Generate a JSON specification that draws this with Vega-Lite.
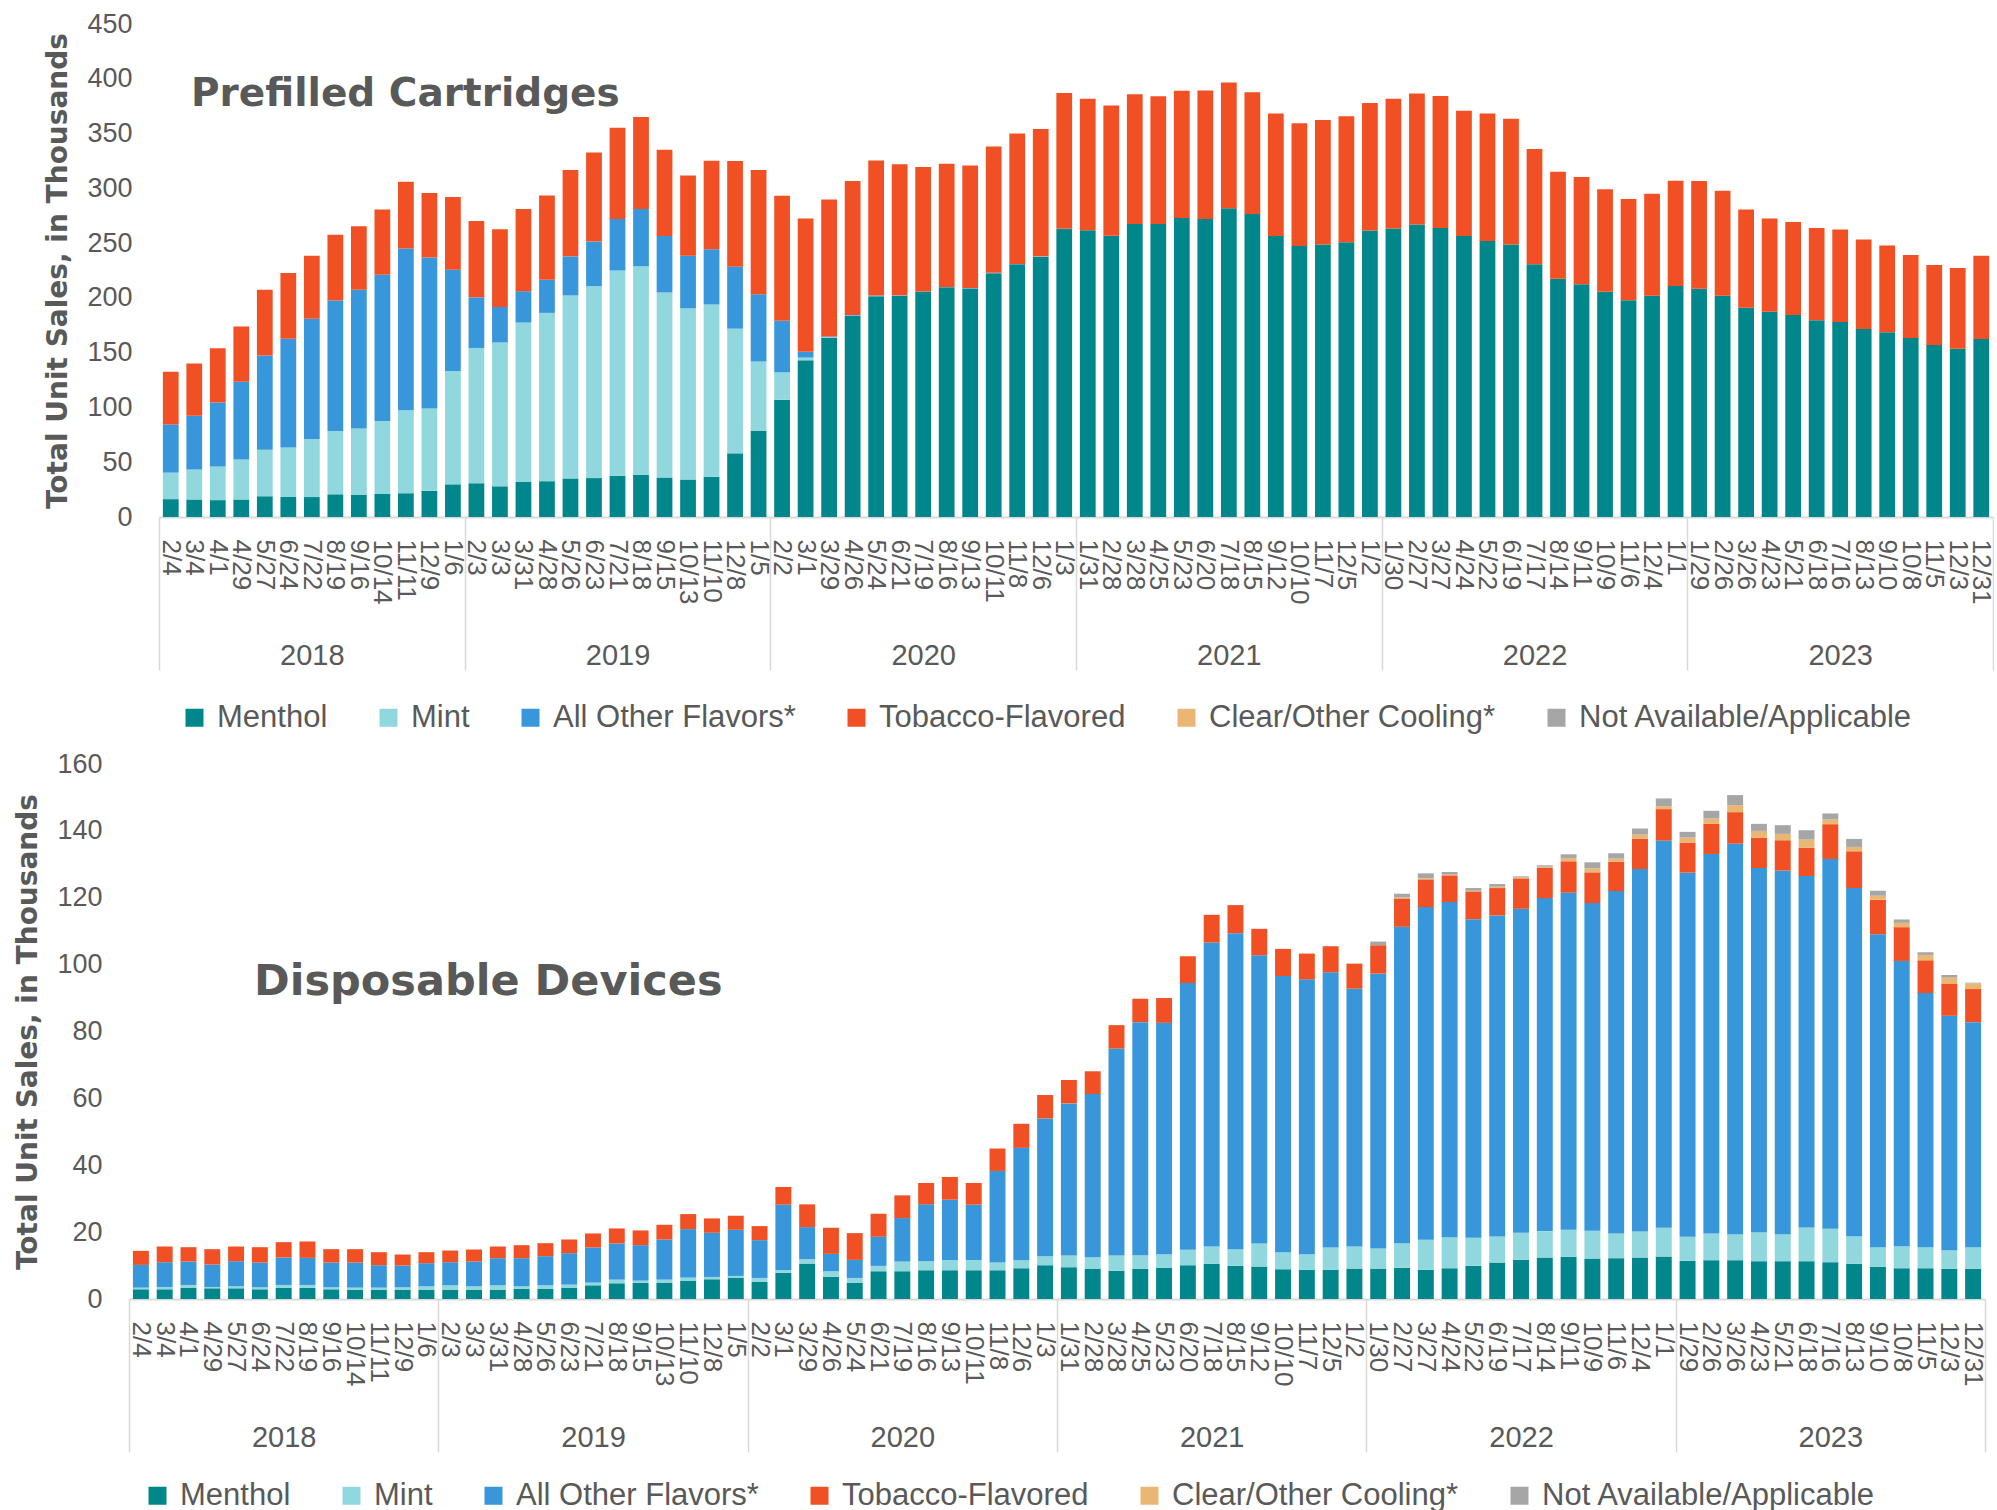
{
  "$schema": "https://vega.github.io/schema/vega-lite/v6.json",
  "padding": {"left": 14, "top": 10, "right": 0, "bottom": 0},
  "background": "white",
  "config": {
    "view": {"stroke": null},
    "font": "Liberation Sans, Arial, sans-serif",
    "axis": {"labelColor": "#595959", "titleColor": "#595959", "labelFont": "Liberation Sans, Arial, sans-serif"},
    "legend": {"labelColor": "#595959", "labelFont": "Liberation Sans, Arial, sans-serif"}
  },
  "datasets": {
    "cats": [
      {"k": "M", "cat": "Menthol", "o": 1},
      {"k": "Mi", "cat": "Mint", "o": 2},
      {"k": "O", "cat": "All Other Flavors*", "o": 3},
      {"k": "T", "cat": "Tobacco-Flavored", "o": 4},
      {"k": "C", "cat": "Clear/Other Cooling*", "o": 5},
      {"k": "N", "cat": "Not Available/Applicable", "o": 6}
    ],
    "years": [{"yr": "2018"}, {"yr": "2019"}, {"yr": "2020"}, {"yr": "2021"}, {"yr": "2022"}, {"yr": "2023"}],
    "pc": [
      {"p": "2/4", "M": 16.3, "Mi": 24.2, "O": 44, "T": 48.1},
      {"p": "3/4", "M": 16, "Mi": 27.4, "O": 49, "T": 47.7},
      {"p": "4/1", "M": 15.4, "Mi": 30.8, "O": 58.4, "T": 49.4},
      {"p": "4/29", "M": 16, "Mi": 36.5, "O": 71, "T": 50.3},
      {"p": "5/27", "M": 18.9, "Mi": 42.4, "O": 86.1, "T": 60},
      {"p": "6/24", "M": 18.2, "Mi": 45.3, "O": 99.3, "T": 60},
      {"p": "7/22", "M": 18.2, "Mi": 53.1, "O": 109.7, "T": 57.5},
      {"p": "8/19", "M": 20.7, "Mi": 57.9, "O": 119, "T": 60},
      {"p": "9/16", "M": 20.4, "Mi": 60.3, "O": 126.7, "T": 58.1},
      {"p": "10/14", "M": 21, "Mi": 66.7, "O": 133.5, "T": 59.4},
      {"p": "11/11", "M": 21.7, "Mi": 75.7, "O": 147.7, "T": 60.9},
      {"p": "12/9", "M": 23.9, "Mi": 75.1, "O": 137.9, "T": 58.8},
      {"p": "1/6", "M": 29.8, "Mi": 103.4, "O": 92.4, "T": 66.6},
      {"p": "2/3", "M": 30.8, "Mi": 123.5, "O": 46.2, "T": 69.7},
      {"p": "3/3", "M": 28, "Mi": 131.3, "O": 32.4, "T": 71},
      {"p": "3/31", "M": 32, "Mi": 145.5, "O": 28.6, "T": 75.1},
      {"p": "4/28", "M": 32.7, "Mi": 153.6, "O": 30.2, "T": 77},
      {"p": "5/26", "M": 35.2, "Mi": 167.1, "O": 35.6, "T": 78.8},
      {"p": "6/23", "M": 35.5, "Mi": 175.3, "O": 40.6, "T": 81.3},
      {"p": "7/21", "M": 37.7, "Mi": 187.3, "O": 47.1, "T": 83.3},
      {"p": "8/18", "M": 38.6, "Mi": 190.4, "O": 52.2, "T": 83.9},
      {"p": "9/15", "M": 36.1, "Mi": 168.8, "O": 51.5, "T": 78.9},
      {"p": "10/13", "M": 34.2, "Mi": 156.2, "O": 48.1, "T": 73.2},
      {"p": "11/10", "M": 36.8, "Mi": 157.1, "O": 50.5, "T": 80.8},
      {"p": "12/8", "M": 58.1, "Mi": 113.8, "O": 56.5, "T": 96.5},
      {"p": "1/5", "M": 78.6, "Mi": 63.4, "O": 61.3, "T": 113.4},
      {"p": "2/2", "M": 107.1, "Mi": 24.9, "O": 47.1, "T": 114.1},
      {"p": "3/1", "M": 143, "Mi": 2.5, "O": 5.3, "T": 121.6},
      {"p": "3/29", "M": 163.5, "Mi": 0.5, "O": 0.8, "T": 124.9},
      {"p": "4/26", "M": 183.5, "Mi": 0.2, "O": 0.6, "T": 122.4},
      {"p": "5/24", "M": 201.6, "Mi": 0.1, "O": 0.4, "T": 123.4},
      {"p": "6/21", "M": 202, "Mi": 0.1, "O": 0.3, "T": 119.6},
      {"p": "7/19", "M": 205.5, "Mi": 0.1, "O": 0.3, "T": 113.6},
      {"p": "8/16", "M": 209.6, "Mi": 0.1, "O": 0.3, "T": 112.4},
      {"p": "9/13", "M": 208.6, "Mi": 0.1, "O": 0.3, "T": 111.8},
      {"p": "10/11", "M": 222.5, "Mi": 0.1, "O": 0.3, "T": 115.2},
      {"p": "11/8", "M": 230.6, "Mi": 0.1, "O": 0.3, "T": 119},
      {"p": "12/6", "M": 237.6, "Mi": 0.1, "O": 0.2, "T": 116.2},
      {"p": "1/3", "M": 262.8, "Mi": 0.1, "O": 0.2, "T": 124},
      {"p": "1/31", "M": 261.7, "Mi": 0, "O": 0, "T": 120.1},
      {"p": "2/28", "M": 256.7, "Mi": 0, "O": 0, "T": 118.8},
      {"p": "3/28", "M": 267.4, "Mi": 0, "O": 0, "T": 118.5},
      {"p": "4/25", "M": 267.4, "Mi": 0, "O": 0, "T": 116.6},
      {"p": "5/23", "M": 273, "Mi": 0, "O": 0, "T": 116},
      {"p": "6/20", "M": 272.1, "Mi": 0, "O": 0, "T": 117.2},
      {"p": "7/18", "M": 281.8, "Mi": 0, "O": 0, "T": 114.7},
      {"p": "8/15", "M": 276.5, "Mi": 0, "O": 0, "T": 111.2},
      {"p": "9/12", "M": 256.4, "Mi": 0, "O": 0, "T": 111.8},
      {"p": "10/10", "M": 247.3, "Mi": 0, "O": 0, "T": 112.1},
      {"p": "11/7", "M": 248.8, "Mi": 0, "O": 0, "T": 113.5},
      {"p": "12/5", "M": 250.7, "Mi": 0, "O": 0, "T": 115},
      {"p": "1/2", "M": 261.4, "Mi": 0, "O": 0, "T": 116.6},
      {"p": "1/30", "M": 263.3, "Mi": 0, "O": 0, "T": 118.5},
      {"p": "2/27", "M": 267.1, "Mi": 0, "O": 0, "T": 119.4},
      {"p": "3/27", "M": 263.9, "Mi": 0, "O": 0, "T": 120.4},
      {"p": "4/24", "M": 256.4, "Mi": 0, "O": 0, "T": 114.4},
      {"p": "5/22", "M": 252, "Mi": 0, "O": 0, "T": 116.2},
      {"p": "6/19", "M": 248.8, "Mi": 0, "O": 0, "T": 114.7},
      {"p": "7/17", "M": 230.6, "Mi": 0, "O": 0, "T": 105.3},
      {"p": "8/14", "M": 217.4, "Mi": 0, "O": 0, "T": 97.7},
      {"p": "9/11", "M": 212.4, "Mi": 0, "O": 0, "T": 98},
      {"p": "10/9", "M": 205.5, "Mi": 0, "O": 0, "T": 93.6},
      {"p": "11/6", "M": 197.9, "Mi": 0, "O": 0, "T": 92.4},
      {"p": "12/4", "M": 202, "Mi": 0, "O": 0, "T": 93},
      {"p": "1/1", "M": 210.8, "Mi": 0, "O": 0, "T": 96.2},
      {"p": "1/29", "M": 208.3, "Mi": 0, "O": 0, "T": 98.4},
      {"p": "2/26", "M": 202, "Mi": 0, "O": 0, "T": 95.9},
      {"p": "3/26", "M": 191, "Mi": 0, "O": 0, "T": 89.6},
      {"p": "4/23", "M": 187.3, "Mi": 0, "O": 0, "T": 85.1},
      {"p": "5/21", "M": 184.4, "Mi": 0, "O": 0, "T": 84.9},
      {"p": "6/18", "M": 179.7, "Mi": 0, "O": 0, "T": 84.2},
      {"p": "7/16", "M": 178, "Mi": 0, "O": 0, "T": 84.4},
      {"p": "8/13", "M": 171.6, "Mi": 0, "O": 0, "T": 81.6},
      {"p": "9/10", "M": 168.7, "Mi": 0, "O": 0, "T": 79.2},
      {"p": "10/8", "M": 163.4, "Mi": 0, "O": 0, "T": 75.7},
      {"p": "11/5", "M": 157.1, "Mi": 0, "O": 0, "T": 72.9},
      {"p": "12/3", "M": 153.6, "Mi": 0, "O": 0, "T": 73.6},
      {"p": "12/31", "M": 162.4, "Mi": 0, "O": 0, "T": 76.1}
    ],
    "dd": [
      {"p": "2/4", "M": 2.9, "Mi": 0.5, "O": 6.8, "T": 4.2, "C": 0, "N": 0},
      {"p": "3/4", "M": 2.9, "Mi": 0.7, "O": 7.4, "T": 4.7, "C": 0, "N": 0},
      {"p": "4/1", "M": 3.4, "Mi": 0.8, "O": 7.0, "T": 4.3, "C": 0, "N": 0},
      {"p": "4/29", "M": 3.2, "Mi": 0.4, "O": 6.7, "T": 4.6, "C": 0, "N": 0},
      {"p": "5/27", "M": 3.2, "Mi": 0.6, "O": 7.5, "T": 4.4, "C": 0, "N": 0},
      {"p": "6/24", "M": 2.9, "Mi": 0.6, "O": 7.4, "T": 4.6, "C": 0, "N": 0},
      {"p": "7/22", "M": 3.3, "Mi": 0.9, "O": 8.2, "T": 4.6, "C": 0, "N": 0},
      {"p": "8/19", "M": 3.3, "Mi": 0.9, "O": 8.1, "T": 4.9, "C": 0, "N": 0},
      {"p": "9/16", "M": 2.9, "Mi": 0.6, "O": 7.4, "T": 4.0, "C": 0, "N": 0},
      {"p": "10/14", "M": 2.8, "Mi": 0.6, "O": 7.5, "T": 4.0, "C": 0, "N": 0},
      {"p": "11/11", "M": 2.8, "Mi": 0.6, "O": 6.7, "T": 3.9, "C": 0, "N": 0},
      {"p": "12/9", "M": 2.8, "Mi": 0.7, "O": 6.5, "T": 3.3, "C": 0, "N": 0},
      {"p": "1/6", "M": 2.8, "Mi": 1.0, "O": 6.9, "T": 3.3, "C": 0, "N": 0},
      {"p": "2/3", "M": 2.8, "Mi": 1.3, "O": 6.9, "T": 3.5, "C": 0, "N": 0},
      {"p": "3/3", "M": 2.8, "Mi": 1.0, "O": 7.4, "T": 3.6, "C": 0, "N": 0},
      {"p": "3/31", "M": 2.8, "Mi": 1.3, "O": 8.1, "T": 3.5, "C": 0, "N": 0},
      {"p": "4/28", "M": 3.1, "Mi": 0.7, "O": 8.4, "T": 3.9, "C": 0, "N": 0},
      {"p": "5/26", "M": 3.1, "Mi": 1.0, "O": 8.7, "T": 3.9, "C": 0, "N": 0},
      {"p": "6/23", "M": 3.4, "Mi": 0.9, "O": 9.4, "T": 4.1, "C": 0, "N": 0},
      {"p": "7/21", "M": 4.1, "Mi": 0.8, "O": 10.5, "T": 4.2, "C": 0, "N": 0},
      {"p": "8/18", "M": 4.7, "Mi": 1.1, "O": 10.8, "T": 4.5, "C": 0, "N": 0},
      {"p": "9/15", "M": 4.8, "Mi": 0.7, "O": 10.6, "T": 4.4, "C": 0, "N": 0},
      {"p": "10/13", "M": 4.9, "Mi": 0.9, "O": 12.0, "T": 4.4, "C": 0, "N": 0},
      {"p": "11/10", "M": 5.5, "Mi": 0.9, "O": 14.5, "T": 4.5, "C": 0, "N": 0},
      {"p": "12/8", "M": 5.9, "Mi": 0.7, "O": 13.2, "T": 4.3, "C": 0, "N": 0},
      {"p": "1/5", "M": 6.4, "Mi": 0.5, "O": 13.8, "T": 4.2, "C": 0, "N": 0},
      {"p": "2/2", "M": 5.1, "Mi": 1.2, "O": 11.3, "T": 4.2, "C": 0, "N": 0},
      {"p": "3/1", "M": 7.8, "Mi": 0.9, "O": 19.5, "T": 5.3, "C": 0, "N": 0},
      {"p": "3/29", "M": 10.6, "Mi": 1.3, "O": 9.6, "T": 6.8, "C": 0, "N": 0},
      {"p": "4/26", "M": 6.6, "Mi": 1.7, "O": 5.2, "T": 7.8, "C": 0, "N": 0},
      {"p": "5/24", "M": 4.8, "Mi": 1.5, "O": 5.4, "T": 8.0, "C": 0, "N": 0},
      {"p": "6/21", "M": 8.3, "Mi": 1.6, "O": 8.7, "T": 6.9, "C": 0, "N": 0},
      {"p": "7/19", "M": 8.3, "Mi": 2.9, "O": 13.0, "T": 6.8, "C": 0, "N": 0},
      {"p": "8/16", "M": 8.6, "Mi": 2.7, "O": 17.0, "T": 6.4, "C": 0, "N": 0},
      {"p": "9/13", "M": 8.6, "Mi": 3.1, "O": 18.0, "T": 6.8, "C": 0, "N": 0},
      {"p": "10/11", "M": 8.6, "Mi": 3.1, "O": 16.5, "T": 6.5, "C": 0, "N": 0},
      {"p": "11/8", "M": 8.6, "Mi": 2.3, "O": 27.4, "T": 6.7, "C": 0, "N": 0},
      {"p": "12/6", "M": 9.2, "Mi": 2.4, "O": 33.6, "T": 7.2, "C": 0, "N": 0},
      {"p": "1/3", "M": 10.1, "Mi": 2.7, "O": 41.2, "T": 7.0, "C": 0, "N": 0},
      {"p": "1/31", "M": 9.5, "Mi": 3.5, "O": 45.5, "T": 7.0, "C": 0, "N": 0},
      {"p": "2/28", "M": 9.1, "Mi": 3.4, "O": 48.8, "T": 6.8, "C": 0, "N": 0},
      {"p": "3/28", "M": 8.4, "Mi": 4.6, "O": 61.9, "T": 7.0, "C": 0, "N": 0},
      {"p": "4/25", "M": 9.0, "Mi": 4.1, "O": 69.7, "T": 7.0, "C": 0, "N": 0},
      {"p": "5/23", "M": 9.3, "Mi": 4.1, "O": 69.2, "T": 7.4, "C": 0, "N": 0},
      {"p": "6/20", "M": 10.1, "Mi": 4.6, "O": 79.8, "T": 8.0, "C": 0, "N": 0},
      {"p": "7/18", "M": 10.5, "Mi": 5.2, "O": 90.9, "T": 8.3, "C": 0, "N": 0},
      {"p": "8/15", "M": 9.9, "Mi": 5.0, "O": 94.5, "T": 8.4, "C": 0, "N": 0},
      {"p": "9/12", "M": 9.7, "Mi": 6.9, "O": 86.2, "T": 7.9, "C": 0, "N": 0},
      {"p": "10/10", "M": 8.9, "Mi": 5.1, "O": 82.6, "T": 8.1, "C": 0, "N": 0},
      {"p": "11/7", "M": 8.7, "Mi": 4.7, "O": 82.2, "T": 7.7, "C": 0, "N": 0},
      {"p": "12/5", "M": 8.7, "Mi": 6.7, "O": 82.3, "T": 7.8, "C": 0, "N": 0},
      {"p": "1/2", "M": 9.1, "Mi": 6.6, "O": 77.1, "T": 7.5, "C": 0, "N": 0},
      {"p": "1/30", "M": 9.1, "Mi": 6.0, "O": 82.2, "T": 8.5, "C": 0, "N": 1.1},
      {"p": "2/27", "M": 9.3, "Mi": 7.4, "O": 94.6, "T": 8.5, "C": 0.3, "N": 1.1},
      {"p": "3/27", "M": 8.7, "Mi": 9.0, "O": 99.5, "T": 8.3, "C": 0.3, "N": 1.5},
      {"p": "4/24", "M": 9.2, "Mi": 9.3, "O": 100.2, "T": 8.0, "C": 0.2, "N": 0.8},
      {"p": "5/22", "M": 9.9, "Mi": 8.4, "O": 95.3, "T": 8.3, "C": 0.2, "N": 0.8},
      {"p": "6/19", "M": 10.9, "Mi": 7.8, "O": 96.0, "T": 8.2, "C": 0.4, "N": 0.8},
      {"p": "7/17", "M": 11.7, "Mi": 8.1, "O": 96.9, "T": 9.1, "C": 0.3, "N": 0.3},
      {"p": "8/14", "M": 12.4, "Mi": 7.9, "O": 99.6, "T": 9.0, "C": 0.4, "N": 0.4},
      {"p": "9/11", "M": 12.6, "Mi": 8.1, "O": 100.8, "T": 9.4, "C": 1.0, "N": 1.1},
      {"p": "10/9", "M": 12.1, "Mi": 8.3, "O": 98.0, "T": 9.2, "C": 1.2, "N": 1.8},
      {"p": "11/6", "M": 12.2, "Mi": 7.4, "O": 102.4, "T": 8.8, "C": 0.9, "N": 1.6},
      {"p": "12/4", "M": 12.4, "Mi": 7.8, "O": 108.4, "T": 9.1, "C": 1.2, "N": 1.8},
      {"p": "1/1", "M": 12.7, "Mi": 8.6, "O": 115.8, "T": 9.4, "C": 0.9, "N": 2.3},
      {"p": "1/29", "M": 11.4, "Mi": 7.2, "O": 108.9, "T": 9.0, "C": 1.5, "N": 1.7},
      {"p": "2/26", "M": 11.6, "Mi": 8.0, "O": 113.5, "T": 9.0, "C": 1.6, "N": 2.3},
      {"p": "3/26", "M": 11.6, "Mi": 7.8, "O": 116.8, "T": 9.4, "C": 2.1, "N": 3.0},
      {"p": "4/23", "M": 11.3, "Mi": 8.7, "O": 108.9, "T": 9.0, "C": 2.1, "N": 2.1},
      {"p": "5/21", "M": 11.3, "Mi": 8.1, "O": 108.7, "T": 9.1, "C": 1.9, "N": 2.6},
      {"p": "6/18", "M": 11.3, "Mi": 10.1, "O": 105.1, "T": 8.5, "C": 2.4, "N": 2.8},
      {"p": "7/16", "M": 11.0, "Mi": 10.0, "O": 110.6, "T": 10.4, "C": 1.4, "N": 1.8},
      {"p": "8/13", "M": 10.5, "Mi": 8.3, "O": 104.1, "T": 11.0, "C": 1.3, "N": 2.4},
      {"p": "9/10", "M": 9.6, "Mi": 5.9, "O": 93.6, "T": 10.3, "C": 1.2, "N": 1.5},
      {"p": "10/8", "M": 9.2, "Mi": 6.6, "O": 85.3, "T": 10.1, "C": 1.3, "N": 1.0},
      {"p": "11/5", "M": 9.2, "Mi": 6.3, "O": 76.0, "T": 9.8, "C": 1.6, "N": 0.8},
      {"p": "12/3", "M": 9.0, "Mi": 5.6, "O": 70.1, "T": 9.5, "C": 1.9, "N": 0.8},
      {"p": "12/31", "M": 9.0, "Mi": 6.5, "O": 67.3, "T": 9.9, "C": 1.7, "N": 0.2}
    ]
  },
  "vconcat": [
    {
      "hconcat": [
        {
          "width": 1, "height": 1,
          "view": {"fill": "white", "stroke": null},
          "data": {"values": []},
          "mark": "rect",
          "encoding": {}
        },
        {
          "width": 1834, "height": 493,
          "title": {"text": "Prefilled Cartridges", "anchor": "start", "frame": "group", "orient": "top", "baseline": "alphabetic", "offset": -135, "dx": 32, "font": "DejaVu Sans", "fontSize": 39, "fontWeight": "bold", "color": "#595959"},
          "layer": [
            {
              "data": {"name": "pc"},
              "transform": [
                {"fold": ["M", "Mi", "O", "T"], "as": ["k", "v"]},
                {"lookup": "k", "from": {"data": {"name": "cats"}, "key": "k", "fields": ["cat", "o"]}}
              ],
              "mark": {"type": "bar"},
              "encoding": {
                "x": {"field": "p", "type": "nominal", "sort": null,
                  "scale": {"paddingInner": 0.33, "paddingOuter": 0.165},
                  "axis": {"title": null, "labelAngle": 90, "labelFontSize": 26, "labelPadding": 22, "ticks": false, "domainColor": "#D9D9D9", "domainWidth": 2, "labelOverlap": false}},
                "y": {"field": "v", "type": "quantitative", "stack": "zero",
                  "scale": {"domain": [0, 450], "nice": false},
                  "axis": {"title": "Total Unit Sales, in Thousands", "titleFont": "DejaVu Sans", "titleFontSize": 28, "titleFontWeight": "bold", "titlePadding": 14, "values": [0, 50, 100, 150, 200, 250, 300, 350, 400, 450], "grid": false, "ticks": false, "domain": false, "labelFontSize": 27, "labelPadding": 27}},
                "color": {"field": "cat", "type": "nominal",
                  "scale": {"domain": ["Menthol", "Mint", "All Other Flavors*", "Tobacco-Flavored", "Clear/Other Cooling*", "Not Available/Applicable"], "range": ["#00868B", "#90D8DE", "#3896DA", "#F05023", "#EAB673", "#A6A6A6"]},
                  "legend": {"orient": "none", "legendX": 20, "legendY": 678, "direction": "horizontal", "title": null, "symbolType": "square", "symbolSize": 324, "symbolStrokeWidth": 0, "labelFontSize": 31, "labelOffset": 7, "columnPadding": 45, "labelLimit": 600, "padding": 0}},
                "order": {"field": "o", "type": "quantitative"}
              }
            },
            {
              "data": {"name": "years"},
              "mark": {"type": "rect", "opacity": 0},
              "encoding": {
                "x": {"field": "yr", "type": "nominal",
                  "scale": {"paddingInner": 0, "paddingOuter": 0},
                  "axis": {"orient": "bottom", "title": null, "domain": false, "tickBand": "extent", "tickSize": 153, "tickColor": "#D9D9D9", "tickWidth": 1.5, "labelPadding": -29, "labelFontSize": 29, "labelAngle": 0}}
              }
            }
          ],
          "resolve": {"scale": {"x": "independent"}}
        }
      ],
      "spacing": 29,
      "bounds": "flush",
      "resolve": {"scale": {"x": "independent", "y": "independent", "color": "independent"}, "legend": {"color": "independent"}}
    },
    {
      "width": 1856, "height": 535,
      "title": {"text": "Disposable Devices", "anchor": "start", "frame": "group", "orient": "top", "baseline": "alphabetic", "offset": -288, "dx": 125, "font": "DejaVu Sans", "fontSize": 43, "fontWeight": "bold", "color": "#595959"},
      "layer": [
        {
          "data": {"name": "dd"},
          "transform": [
            {"fold": ["M", "Mi", "O", "T", "C", "N"], "as": ["k", "v"]},
            {"lookup": "k", "from": {"data": {"name": "cats"}, "key": "k", "fields": ["cat", "o"]}}
          ],
          "mark": {"type": "bar"},
          "encoding": {
            "x": {"field": "p", "type": "nominal", "sort": null,
              "scale": {"paddingInner": 0.33, "paddingOuter": 0.165},
              "axis": {"title": null, "labelAngle": 90, "labelFontSize": 26, "labelPadding": 22, "ticks": false, "domainColor": "#D9D9D9", "domainWidth": 2, "labelOverlap": false}},
            "y": {"field": "v", "type": "quantitative", "stack": "zero",
              "scale": {"domain": [0, 160], "nice": false},
              "axis": {"title": "Total Unit Sales, in Thousands", "titleFont": "DejaVu Sans", "titleFontSize": 28, "titleFontWeight": "bold", "titlePadding": 14, "values": [0, 20, 40, 60, 80, 100, 120, 140, 160], "grid": false, "ticks": false, "domain": false, "labelFontSize": 27, "labelPadding": 27}},
            "color": {"field": "cat", "type": "nominal",
              "scale": {"domain": ["Menthol", "Mint", "All Other Flavors*", "Tobacco-Flavored", "Clear/Other Cooling*", "Not Available/Applicable"], "range": ["#00868B", "#90D8DE", "#3896DA", "#F05023", "#EAB673", "#A6A6A6"]},
              "legend": {"orient": "none", "legendX": 13, "legendY": 716, "direction": "horizontal", "title": null, "symbolType": "square", "symbolSize": 324, "symbolStrokeWidth": 0, "labelFontSize": 31, "labelOffset": 7, "columnPadding": 45, "labelLimit": 600, "padding": 0}},
            "order": {"field": "o", "type": "quantitative"}
          }
        },
        {
          "data": {"name": "years"},
          "mark": {"type": "rect", "opacity": 0},
          "encoding": {
            "x": {"field": "yr", "type": "nominal",
              "scale": {"paddingInner": 0, "paddingOuter": 0},
              "axis": {"orient": "bottom", "title": null, "domain": false, "tickBand": "extent", "tickSize": 153, "tickColor": "#D9D9D9", "tickWidth": 1.5, "labelPadding": -29, "labelFontSize": 29, "labelAngle": 0}}
          }
        }
      ],
      "resolve": {"scale": {"x": "independent"}}
    }
  ],
  "spacing": 17,
  "resolve": {"scale": {"x": "independent", "y": "independent", "color": "independent"}, "legend": {"color": "independent"}}
}
